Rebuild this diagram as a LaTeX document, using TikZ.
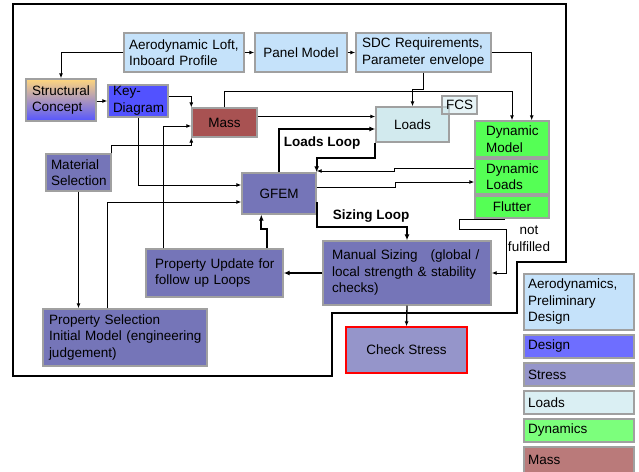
\documentclass[tikz,border=0pt]{standalone}
\usepackage{fontspec}
\setmainfont{Liberation Sans}
\usetikzlibrary{arrows.meta,calc}
\definecolor{aeroc}{RGB}{197,226,250}
\definecolor{designc}{RGB}{82,82,255}
\definecolor{designl}{RGB}{110,110,255}
\definecolor{stressc}{RGB}{117,117,184}
\definecolor{stressl}{RGB}{149,149,202}
\definecolor{loadsc}{RGB}{210,234,238}
\definecolor{loadsl}{RGB}{218,239,243}
\definecolor{dync}{RGB}{85,255,85}
\definecolor{dynl}{RGB}{124,255,124}
\definecolor{massc}{RGB}{168,82,82}
\definecolor{massl}{RGB}{186,122,122}
\definecolor{bordergray}{RGB}{160,160,160}
\begin{document}
\begin{tikzpicture}[x=1pt,y=-1pt,
  fs/.style={font=\fontsize{13.5}{16.5}\selectfont},
  box/.style={draw=bordergray, line width=1.4pt, inner sep=0pt, fs, align=left},
  cbox/.style={draw=bordergray, line width=1.4pt, inner sep=0pt, fs, align=center},
  conn/.style={draw=black, line width=0.9pt, -{Latex[length=5pt,width=4pt]}},
  loopc/.style={draw=black, line width=2pt, -{Latex[length=6pt,width=5pt]}},
  frameline/.style={draw=black, line width=2pt},
  lbl/.style={font=\fontsize{13.5}{16.5}\selectfont\bfseries, inner sep=0pt},
]
\useasboundingbox (0,0) rectangle (639,471);

% outer frame
\draw[frameline] (13,4) -- (566,4) -- (566,262) -- (517,262) -- (517,313)
  -- (332,313) -- (332,376) -- (13,376) -- cycle;

% nodes
\node[box, fill=aeroc, minimum width=120pt, minimum height=39pt, text width=110pt] (aero) at (184,52.5) {Aerodynamic Loft,\\Inboard Profile};
\node[cbox, fill=aeroc, minimum width=92pt, minimum height=39pt] (panel) at (301,52.5) {Panel Model};
\node[box, fill=aeroc, minimum width=135pt, minimum height=39pt, text width=123pt] (sdc) at (423.5,52.5) {\mbox{SDC Requirements,}\\\mbox{Parameter envelope}};
\node[box, top color={rgb,255:red,255;green,214;blue,125}, bottom color={rgb,255:red,85;green,85;blue,255}, minimum width=70pt, minimum height=42pt, text width=58pt] (struct) at (61,100) {\mbox{Structural}\\Concept};
\node[box, fill=designc, minimum width=60pt, minimum height=32pt, text width=50pt] (key) at (138,101) {Key-\\\mbox{Diagram}};
\node[cbox, fill=massc, minimum width=65pt, minimum height=29pt] (mass) at (224.5,122.5) {Mass};
\node[box, fill=stressc, minimum width=65pt, minimum height=37pt, text width=55pt] (mat) at (78.5,172.5) {Material\\\mbox{Selection}};
\node[cbox, fill=stressc, minimum width=74pt, minimum height=41pt] (gfem) at (279,193.5) {GFEM};
\node[cbox, fill=loadsc, minimum width=73pt, minimum height=35pt] (loads) at (412.5,124.5) {Loads};
\node[cbox, fill=loadsc, fill opacity=0.55, text opacity=1, draw opacity=1, minimum width=35pt, minimum height=18pt] (fcs) at (459.5,105) {FCS};
\node[box, fill=dync, minimum width=74pt, minimum height=36pt, text width=52pt] (dynm) at (512,139) {\mbox{Dynamic}\\Model};
\node[box, fill=dync, minimum width=74pt, minimum height=35pt, text width=52pt] (dynld) at (512,176.5) {\mbox{Dynamic}\\Loads};
\node[cbox, fill=dync, minimum width=74pt, minimum height=22pt] (flut) at (512,207) {Flutter};
\node[box, fill=stressc, minimum width=168pt, minimum height=64pt, text width=150pt] (manual) at (407,273) {\mbox{Manual Sizing\hspace{13pt}(global /}\\\mbox{local strength \& stability}\\checks)};
\node[cbox, draw=red, fill=stressl, minimum width=121pt, minimum height=46pt] (check) at (406.5,350) {Check Stress};
\node[box, fill=stressc, minimum width=137pt, minimum height=48pt, text width=119pt] (pupd) at (214.5,273) {\mbox{Property Update for}\\\mbox{follow up Loops}};
\node[box, fill=stressc, minimum width=164pt, minimum height=57pt, text width=152pt] (psel) at (125,337.5) {\mbox{Property Selection}\\\mbox{Initial Model (engineering}\\judgement)};

% legend
\node[box, fill=aeroc, minimum width=110pt, minimum height=56pt, text width=102pt] (lg1) at (579,302) {\mbox{Aerodynamics,}\\Preliminary\\Design};
\node[box, fill=designl, minimum width=110pt, minimum height=23pt, text width=102pt] (lg2) at (579,346.5) {Design};
\node[box, fill=stressl, minimum width=110pt, minimum height=23pt, text width=102pt] (lg3) at (579,374.5) {Stress};
\node[box, fill=loadsl, minimum width=110pt, minimum height=23pt, text width=102pt] (lg4) at (579,402.5) {Loads};
\node[box, fill=dynl, minimum width=110pt, minimum height=23pt, text width=102pt] (lg5) at (579,430.5) {Dynamics};
\node[box, fill=massl, minimum width=110pt, minimum height=26pt, text width=102pt] (lg6) at (579,460) {Mass};

% labels
\node[lbl] (ll) at (322,143) {Loads Loop};
\node[lbl] (sl) at (371,216) {Sizing Loop};
\node[fs, inner sep=0pt, align=center] (nf) at (529,238.5) {not\\fulfilled};

% thin connectors
\draw[conn] (aero.west) -| (struct.north);
\draw[conn] (aero.east) -- (panel.west);
\draw[conn] (panel.east) -- (sdc.west);
\draw[conn] (struct.east |- key.west) -- (key.west);
\draw[conn] ([yshift=5pt]key.east) -| (mass.north west);
\draw[conn] (key.south) |- ([yshift=8.5pt]gfem.west);
\draw[conn] (mat.north east) -- ++(0,-8) -| (mass.south west);
\draw[conn] ([xshift=18pt]pupd.north west) |- ([yshift=-3.5pt]mass.west);
\draw[conn] ([xshift=65pt]psel.north west) |- ([yshift=-8.5pt]gfem.west);
\draw[conn] (mat.south) -- (mat.south |- psel.north);
\draw[conn] (mass.north) -- ++(0,-16) -| (dynm.north);
\draw[conn] ([yshift=6pt]mass.east) -- ([yshift=6pt]mass.east -| loads.west);
\draw[conn] ([yshift=8.5pt]dynld.west) -| ++(-80,3) coordinate (t1) -- (t1 -| gfem.east);
\draw[conn] ([yshift=6.5pt]gfem.east) -| ++(79,-5) coordinate (t2) -- (t2 -| dynld.west);
\draw[conn] (sdc.south) -- ++(0,17) -| (loads.north);
\draw[conn] (sdc.east) -| ([xshift=-18pt]dynm.north east);
\draw[conn] ([xshift=-8pt]flut.south) -- ++(0,1) -- ++(-45,0) -- ++(0,10) -- ++(47,0) |- (manual.east);

% thick connectors
\draw[loopc] ([xshift=-17pt]pupd.north east) -- ++(0,-19) -| ([xshift=20pt]gfem.south west);
\draw[loopc] (gfem.north) |- ([yshift=-4.5pt]loads.west);
\draw[loopc] (loads.south west) -- ++(0,15) -| (gfem.north east);
\draw[loopc] ([yshift=-8.5pt]gfem.east) -- ++(0,25) -| (manual.north);
\draw[loopc] (manual.west) -- (pupd.east);
\draw[conn, line width=1.3pt] (manual.south) -- (check.north);
\end{tikzpicture}
\end{document}
